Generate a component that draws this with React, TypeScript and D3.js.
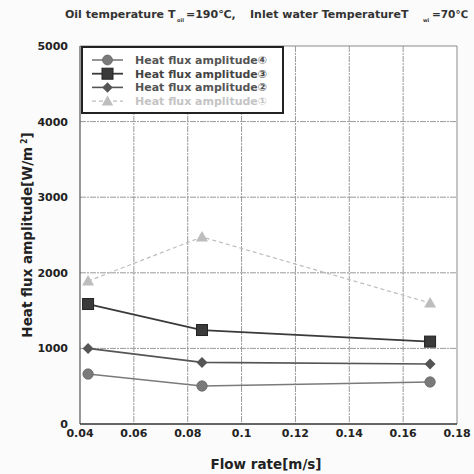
import React from "react";
import * as d3 from "d3";

const flowRates = [0.043, 0.0853, 0.17];
const amplitude4 = [661, 503, 556];
const amplitude3 = [1587, 1243, 1090];
const amplitude2 = [1000, 815, 794];
const amplitude1 = [1890, 2474, 1600];
const xTicks = [0.04, 0.06, 0.08, 0.1, 0.12, 0.14, 0.16, 0.18];
const xTickLabels = ["0.04", "0.06", "0.08", "0.1", "0.12", "0.14", "0.16", "0.18"];
const yTicks = [0, 1000, 2000, 3000, 4000, 5000];

const W = 474;
const H = 474;
const left = 80;
const right = 457;
const top = 46;
const bottom = 424;

type Series = {
  name: string;
  values: number[];
  color: string;
  marker: "circle" | "square" | "diamond" | "triangle";
  dash?: string;
  width: number;
  textColor: string;
};

const series: Series[] = [
  { name: "Heat flux amplitude④", values: amplitude4, color: "#7a7a7a", marker: "circle", width: 1.6, textColor: "#555" },
  { name: "Heat flux amplitude③", values: amplitude3, color: "#3a3a3a", marker: "square", width: 1.8, textColor: "#444" },
  { name: "Heat flux amplitude②", values: amplitude2, color: "#555", marker: "diamond", width: 1.6, textColor: "#555" },
  { name: "Heat flux amplitude①", values: amplitude1, color: "#bdbdbd", marker: "triangle", dash: "4,3", width: 1.2, textColor: "#c4c4c4" },
];

function Marker({ kind, x, y, color, scale = 1 }: { kind: Series["marker"]; x: number; y: number; color: string; scale?: number }) {
  if (kind === "circle") return <circle cx={x} cy={y} r={5.2 * scale} fill={color} stroke="#666" strokeWidth={0.8} />;
  if (kind === "square") {
    const s = 11 * scale;
    return <rect x={x - s / 2} y={y - s / 2} width={s} height={s} fill={color} stroke="#222" strokeWidth={1} />;
  }
  if (kind === "diamond") {
    const d = 5.5 * scale;
    return <path d={`M${x},${y - d}L${x + d},${y}L${x},${y + d}L${x - d},${y}Z`} fill={color} />;
  }
  const t = 6 * scale;
  return <path d={`M${x},${y - t}L${x + t},${y + t * 0.75}L${x - t},${y + t * 0.75}Z`} fill={color} />;
}

export default function App() {
  const x = d3.scaleLinear().domain([0.04, 0.18]).range([left, right]);
  const y = d3.scaleLinear().domain([0, 5000]).range([bottom, top]);
  const line = d3
    .line<number>()
    .x((_, i) => x(flowRates[i]))
    .y((v) => y(v));

  const font = "'DejaVu Sans', Verdana, sans-serif";

  return (
    <svg width={W} height={H} style={{ position: "absolute", left: 0, top: 0, background: "#fbfbfb" }} fontFamily={font}>
      <rect x={left} y={top} width={right - left} height={bottom - top} fill="#ffffff" />
      {/* grid */}
      {xTicks.slice(1, -1).map((t) => (
        <line key={"gx" + t} x1={x(t)} x2={x(t)} y1={top} y2={bottom} stroke="#9a9a9a" strokeWidth={1} strokeDasharray="6,1,2,1" />
      ))}
      {yTicks.slice(1, -1).map((t) => (
        <line key={"gy" + t} x1={left} x2={right} y1={y(t)} y2={y(t)} stroke="#9a9a9a" strokeWidth={1} strokeDasharray="6,1,2,1" />
      ))}
      {/* frame */}
      <line x1={left} x2={right} y1={top} y2={top} stroke="#8a8a8a" strokeWidth={1} />
      <line x1={right} x2={right} y1={top} y2={bottom} stroke="#8a8a8a" strokeWidth={1} />
      <line x1={left} x2={left} y1={top} y2={bottom} stroke="#555" strokeWidth={1.2} />
      <line x1={left} x2={right} y1={bottom} y2={bottom} stroke="#333" strokeWidth={1.6} />

      {/* series */}
      {series.map((s) => (
        <g key={s.name}>
          <path d={line(s.values) || ""} fill="none" stroke={s.color} strokeWidth={s.width} strokeDasharray={s.dash} />
          {s.values.map((v, i) => (
            <Marker key={i} kind={s.marker} x={x(flowRates[i])} y={y(v)} color={s.color} />
          ))}
        </g>
      ))}

      {/* legend */}
      <rect x={82} y={47} width={201} height={66} fill="#ffffff" stroke="#222" strokeWidth={2} />
      {series.map((s, i) => {
        const ly = 60 + i * 13.7;
        return (
          <g key={"lg" + s.name}>
            <line x1={92} x2={123} y1={ly} y2={ly} stroke={s.color} strokeWidth={s.width} strokeDasharray={s.dash} />
            <Marker kind={s.marker} x={107.5} y={ly} color={s.color} scale={s.marker === "square" ? 1 : 0.95} />
            <text x={135} y={ly + 4} fontSize={11} fontWeight="bold" fill={s.textColor}>
              {s.name}
            </text>
          </g>
        );
      })}

      {/* axis labels */}
      {yTicks.map((t) => (
        <text key={"yl" + t} x={68} y={y(t) + 4} textAnchor="end" fontSize={11} fontWeight="bold" fill="#222">
          {t}
        </text>
      ))}
      {xTicks.map((t, i) => (
        <text key={"xl" + t} x={x(t)} y={437} textAnchor="middle" fontSize={11} fontWeight="bold" fill="#222">
          {xTickLabels[i]}
        </text>
      ))}

      <text x={266} y={469} textAnchor="middle" fontSize={13.5} fontWeight="bold" fill="#222">
        Flow rate[m/s]
      </text>
      <text transform="translate(32,235) rotate(-90)" textAnchor="middle" fontSize={13.5} fontWeight="bold" fill="#222">
        Heat flux amplitude[W/m
        <tspan dy={-5} fontSize={8}> 2</tspan>
        <tspan dy={5}>]</tspan>
      </text>

      {/* title with subscripted temperature symbols */}
      <g fontWeight="bold" fill="#333">
        <text x={65} y={18} fontSize={11}>Oil temperature T</text>
        <text x={177} y={22} fontSize={5}>oil</text>
        <text x={186} y={18} fontSize={11}>=190℃,</text>
        <text x={250} y={18} fontSize={11}>Inlet water TemperatureT</text>
        <text x={423} y={22} fontSize={5}>wi</text>
        <text x={432} y={18} fontSize={10.5}>=70℃</text>
      </g>
    </svg>
  );
}
